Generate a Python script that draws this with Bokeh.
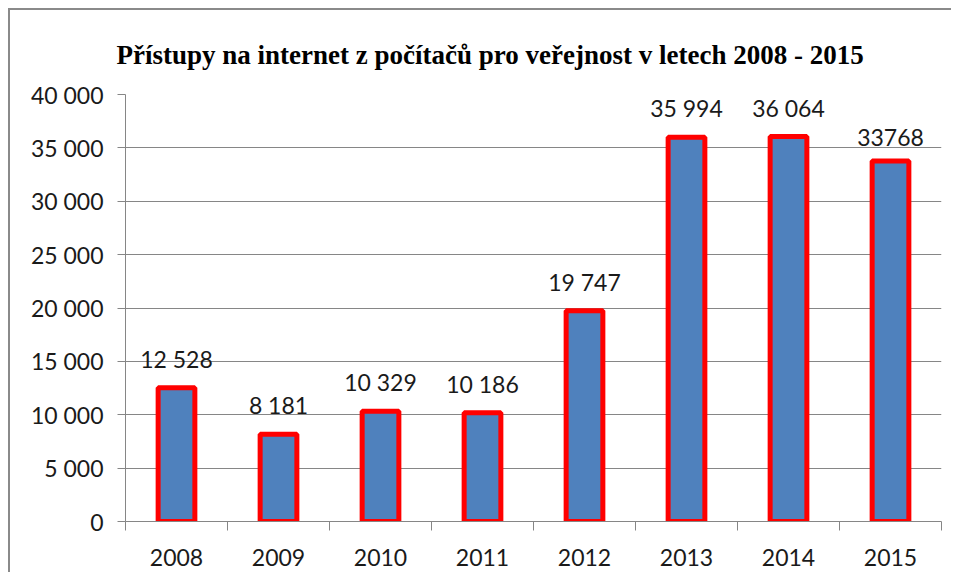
from bokeh.plotting import figure
from bokeh.models import Range1d, FixedTicker, CustomJSTickFormatter, ColumnDataSource
from bokeh.core.properties import value
from bokeh.embed import file_html
from bokeh.resources import INLINE

# ---- data ----
years = ["2008", "2009", "2010", "2011", "2012", "2013", "2014", "2015"]
counts = [12528, 8181, 10329, 10186, 19747, 35994, 36064, 33768]
count_labels = ["12 528", "8 181", "10 329", "10 186", "19 747", "35 994", "36 064", "33768"]
y_ticks = [0, 5000, 10000, 15000, 20000, 25000, 30000, 35000, 40000]
title_text = "Přístupy na internet z počítačů pro veřejnost v letech 2008 - 2015"

n = len(years)
centers = [i + 0.5 for i in range(n)]
bounds = [i for i in range(n + 1)]
src = ColumnDataSource(dict(x=centers, top=counts, label=count_labels))

GRAY = "#868686"
TEXT = "#1a1a1a"
FONT = "Lato"

p = figure(width=943, height=564,
           x_range=Range1d(0, n), y_range=Range1d(0, y_ticks[-1]),
           output_backend="svg", toolbar_location=None,
           min_border_left=115, min_border_right=12,
           min_border_top=84, min_border_bottom=53,
           title=title_text)
p.styles = {"margin-left": "8px", "margin-top": "8px",
            "border-left": "2px solid #8a8a8a", "border-top": "2px solid #8a8a8a"}

p.title.text_font = "Liberation Serif"
p.title.text_font_style = "bold"
p.title.text_font_size = "27px"
p.title.text_color = "#000000"
p.title.align = "left"
p.title.vertical_align = "top"
p.title.offset = -9
p.title.standoff = 45

p.outline_line_color = None
p.background_fill_color = "white"
p.border_fill_color = "white"

p.vbar(x="x", top="top", width=0.36, bottom=0, source=src,
       fill_color="#4F81BD", line_color="#FF0000", line_width=5)

p.text(x="x", y="top", text="label", source=src,
       text_font=value(FONT), text_font_size="23px", text_color=TEXT,
       text_align="center", text_baseline="bottom", y_offset=-15)

# y axis
p.yaxis.ticker = FixedTicker(ticks=y_ticks)
p.yaxis.formatter = CustomJSTickFormatter(code=r"""
const s = Math.round(tick).toString();
return s.replace(/\B(?=(\d{3})+(?!\d))/g, ' ');
""")
p.yaxis.major_label_text_font = FONT
p.yaxis.major_label_text_font_size = "23px"
p.yaxis.major_label_text_color = TEXT
p.yaxis.axis_line_color = GRAY
p.yaxis.major_tick_line_color = GRAY
p.yaxis.major_tick_out = 8
p.yaxis.major_tick_in = 0
p.yaxis.minor_tick_line_color = None
p.yaxis.major_label_standoff = 14

# x axis
p.xaxis.ticker = FixedTicker(ticks=centers, minor_ticks=bounds)
p.xaxis.formatter = CustomJSTickFormatter(args=dict(years=years),
                                          code="return years[Math.floor(tick)];")
p.xaxis.major_label_text_font = FONT
p.xaxis.major_label_text_font_size = "23px"
p.xaxis.major_label_text_color = TEXT
p.xaxis.axis_line_color = GRAY
p.xaxis.major_tick_line_color = None
p.xaxis.major_tick_out = 0
p.xaxis.major_tick_in = 0
p.xaxis.minor_tick_line_color = GRAY
p.xaxis.minor_tick_out = 9
p.xaxis.minor_tick_in = 0
p.xaxis.major_label_standoff = 18

p.xgrid.grid_line_color = None
p.ygrid.ticker = FixedTicker(ticks=y_ticks)
p.ygrid.grid_line_color = GRAY
p.ygrid.grid_line_width = 1

open("out.html", "w").write(file_html(p, INLINE))
